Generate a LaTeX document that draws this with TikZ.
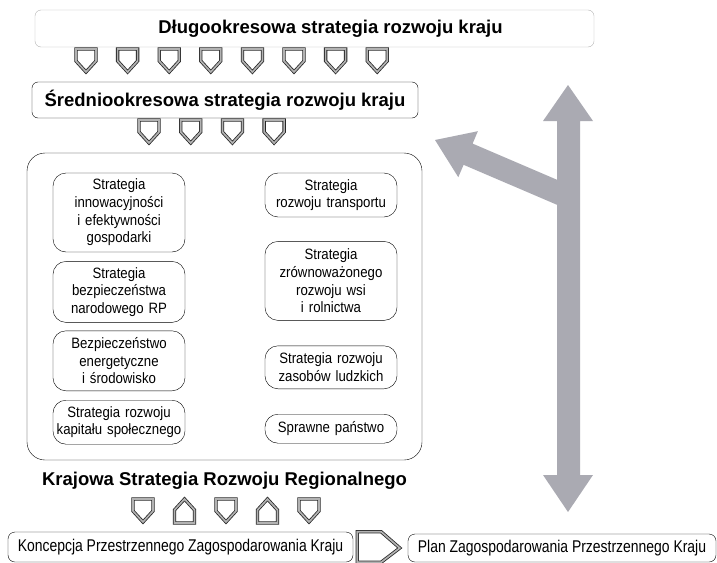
\documentclass[tikz,border=0pt]{standalone}
\usepackage{fontspec}
\setmainfont{Liberation Sans}
\newfontfamily\narrowfont[FakeStretch=0.82]{Liberation Sans}
\newfontfamily\boxfont[FakeStretch=0.88]{Liberation Sans}
\usetikzlibrary{positioning,calc}
\definecolor{arrowgray}{RGB}{170,170,178}
\newcommand{\downshield}[2]{\draw[shield] (#1-10,#2) -- (#1+10,#2) -- (#1+10,#2+12) -- (#1,#2+23) -- (#1-10,#2+12) -- cycle;}
\newcommand{\upshield}[2]{\draw[shield] (#1-10,#2+24) -- (#1+10,#2+24) -- (#1+10,#2+11) -- (#1,#2) -- (#1-10,#2+11) -- cycle;}

\begin{document}
\begin{tikzpicture}[x=1pt,y=-1pt,
    title/.style={font=\fontsize{18.5}{22}\selectfont\bfseries},
    strat/.style={draw, rounded corners=13pt, align=center, inner sep=0pt, text width=132pt, minimum height=#1, font=\boxfont\fontsize{15}{17.7}\selectfont},
    shield/.style={draw=black!85, double=gray!60, double distance=1.7pt, line width=0.8pt, fill=white},
    plan/.style={draw, rounded corners=7pt, inner sep=0pt, font=\narrowfont\fontsize{17}{20}\selectfont}]
    \useasboundingbox (0,0) rectangle (717,562);

    \fill[arrowgray] (557,121) -- (543,121) -- (568,85) -- (593,121) -- (580,121) -- (580,475) -- (593,475) -- (568,512) -- (543,475) -- (557,475) -- cycle;
    \fill[arrowgray] (572.5,186.4) -- (472.6,143.6) -- (477.9,131.2) -- (435,140) -- (458.3,177.2) -- (463.6,164.8) -- (563.5,207.6) -- cycle;

    \node (longterm) [draw=gray!60, rounded corners=6pt, minimum width=559pt, minimum height=37pt, title] at (314.5,28.5) {\hspace*{32pt}Długookresowa strategia rozwoju kraju};
    \foreach \i in {0,...,7} {\downshield{86+41.6*\i}{49}}

    \node (midterm) [draw, rounded corners=6pt, minimum width=386pt, minimum height=36pt, title] at (225,100) {Średniookresowa strategia rozwoju kraju};
    \foreach \i in {0,...,3} {\downshield{149+41.7*\i}{120}}

    \node (panel) [draw, rounded corners=18pt, minimum width=395pt, minimum height=307pt] at (224.5,306.5) {};

    \node (innovation) [strat=79pt] at (119,212.5) {Strategia\\innowacyjności\\i efektywności\\gospodarki};
    \node (security) [strat=61pt, below=9pt of innovation] {Strategia\\bezpieczeństwa\\narodowego RP};
    \node (energy) [strat=60pt, below=8pt of security] {Bezpieczeństwo\\energetyczne\\i środowisko};
    \node (capital) [strat=44pt, below=9pt of energy] {Strategia rozwoju\\kapitału społecznego};

    \node (transport) [strat=44pt] at (331,195) {Strategia\\rozwoju transportu};
    \node (rural) [strat=79pt, below=24pt of transport] {Strategia\\zrównoważonego\\rozwoju wsi\\i rolnictwa};
    \node (human) [strat=43pt, below=25pt of rural] {Strategia rozwoju\\zasobów ludzkich};
    \node (state) [strat=29pt, below=25pt of human] {Sprawne państwo};

    \node (regional) [title] at (224.5,481) {Krajowa Strategia Rozwoju Regionalnego};
    \downshield{143}{499}
    \upshield{184.5}{499}
    \downshield{226}{499}
    \upshield{267.5}{499}
    \downshield{309}{499}

    \node (concept) [plan, minimum width=345pt, minimum height=30pt] at (180.5,547) {Koncepcja Przestrzennego Zagospodarowania Kraju};
    \node (spatialplan) [plan, minimum width=308pt, minimum height=28pt] at (562,548) {Plan Zagospodarowania Przestrzennego Kraju};
    \draw[shield] ([xshift=4pt]concept.north east) -- ([xshift=28pt]concept.north east) -- ([xshift=-8pt]spatialplan.west) -- ([xshift=28pt]concept.south east) -- ([xshift=4pt]concept.south east) -- cycle;
\end{tikzpicture}
\end{document}
